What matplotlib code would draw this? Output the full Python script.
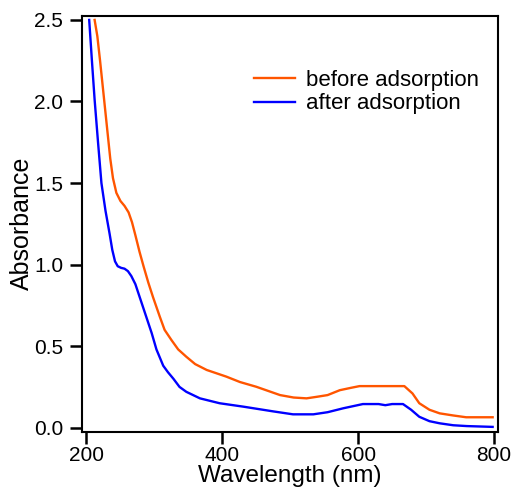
import matplotlib
matplotlib.use("Agg")
import matplotlib.pyplot as plt

plt.rcParams['font.family'] = ['Liberation Sans', 'DejaVu Sans']

# before adsorption (orange)
wl_before = [212, 216, 220, 225, 230, 235, 239, 244, 250, 256, 262, 267, 272, 278,
             284, 291, 298, 308, 315, 325, 335, 347, 360, 377, 406, 426, 450, 485,
             505, 524, 540, 555, 573, 590, 602, 640, 668, 680, 690, 705, 720, 740,
             759, 798]
abs_before = [2.50, 2.40, 2.25, 2.05, 1.85, 1.65, 1.53, 1.44, 1.39, 1.36, 1.32, 1.26,
              1.18, 1.08, 0.99, 0.89, 0.80, 0.68, 0.60, 0.538, 0.48, 0.435, 0.39,
              0.354, 0.313, 0.28, 0.251, 0.20, 0.185, 0.18, 0.19, 0.20, 0.23, 0.245,
              0.255, 0.255, 0.255, 0.21, 0.15, 0.11, 0.088, 0.075, 0.064, 0.064]

# after adsorption (blue)
wl_after = [204, 208, 212, 217, 222, 228, 234, 238, 242, 246, 251, 256, 261, 266,
            272, 280, 288, 296, 303, 308, 313, 320, 328, 337, 347, 367, 396, 431,
            475, 504, 534, 555, 578, 607, 630, 640, 650, 666, 678, 690, 705, 720,
            740, 760, 798]
abs_after = [2.50, 2.25, 2.01, 1.75, 1.50, 1.33, 1.19, 1.09, 1.02, 0.99, 0.98, 0.975,
             0.96, 0.93, 0.88, 0.78, 0.68, 0.58, 0.48, 0.43, 0.38, 0.34, 0.30, 0.25,
             0.22, 0.18, 0.15, 0.129, 0.10, 0.082, 0.082, 0.095, 0.119, 0.145, 0.145,
             0.138, 0.145, 0.145, 0.11, 0.067, 0.04, 0.027, 0.015, 0.01, 0.005]

x_ticks = [200, 400, 600, 800]
y_ticks = [0.0, 0.5, 1.0, 1.5, 2.0, 2.5]

fig = plt.figure(figsize=(5.14, 4.96), dpi=100)
ax = fig.add_axes([82 / 514, 1 - 431.7 / 496, 416 / 514, 416 / 496])

ax.plot(wl_before, abs_before, color='#ff5500', lw=1.7, label='before adsorption')
ax.plot(wl_after, abs_after, color='#0000ff', lw=1.7, label='after adsorption')

ax.set_xlim(193.4, 805.9)
ax.set_ylim(-0.0245, 2.526)
ax.set_xticks(x_ticks)
ax.set_yticks(y_ticks)
ax.set_yticklabels([f"{v:.1f}" for v in y_ticks])

for s in ax.spines.values():
    s.set_linewidth(1.5)
ax.tick_params(direction='out', length=8.5, width=1.8, labelsize=15, pad=2)
ax.tick_params(axis='y', pad=5)

ax.set_xlabel('Wavelength (nm)', fontsize=17.5, labelpad=0)
ax.set_ylabel('Absorbance', fontsize=18, labelpad=0)

ax.legend(loc='upper left', bbox_to_anchor=(243 / 514, 1 - 59 / 496),
          bbox_transform=fig.transFigure, frameon=False, fontsize=16,
          borderpad=0, handlelength=1.85, handletextpad=0.5, labelspacing=0.1)

fig.savefig('out.png', dpi=100)
